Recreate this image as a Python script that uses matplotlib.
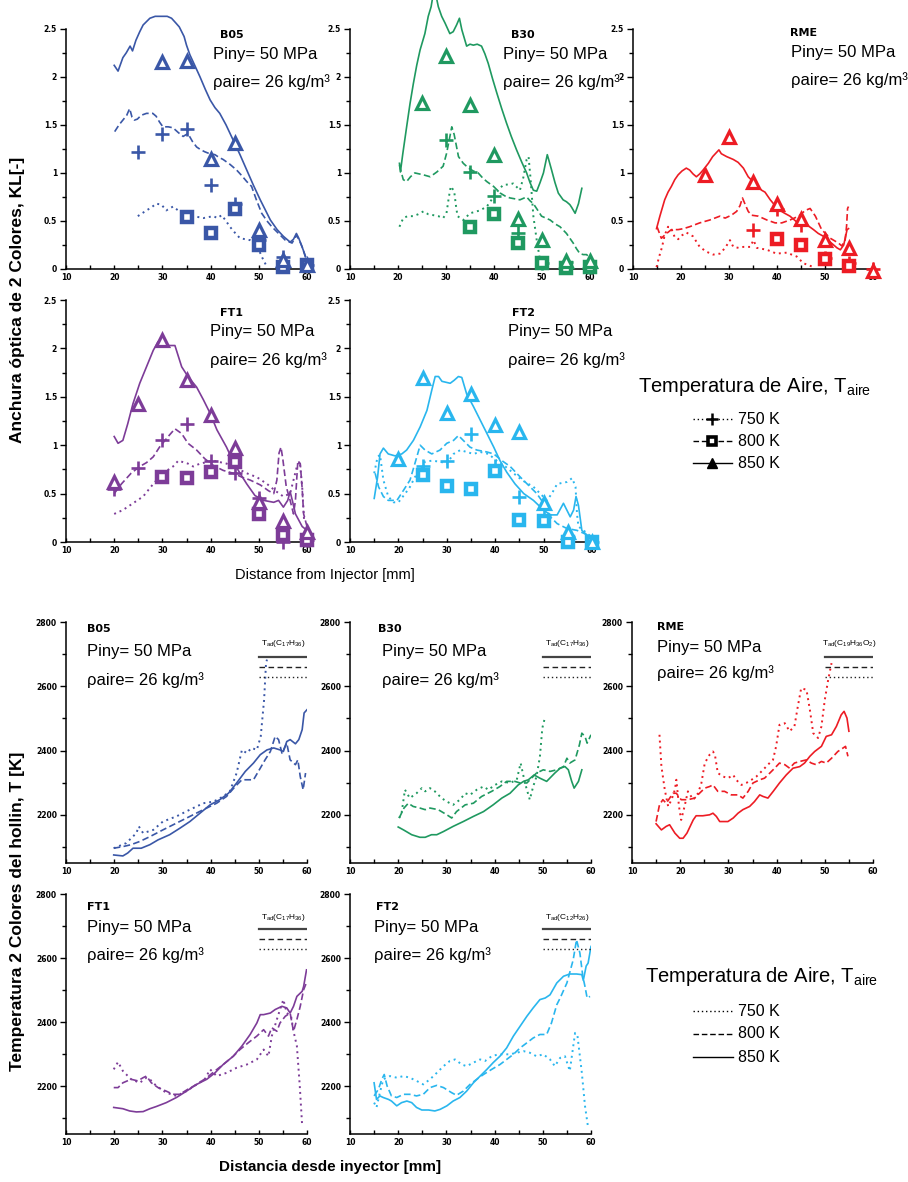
import matplotlib.pyplot as plt

plt.rcParams['font.family'] = ['Liberation Sans', 'DejaVu Sans']
plt.rcParams['mathtext.fontset'] = 'custom'
plt.rcParams['mathtext.rm'] = 'Liberation Sans'
plt.rcParams['mathtext.default'] = 'regular'

# ---- anchura optica KL (distancia mm, KL) ----
B05_KL_850 = [(20.0, 2.12), (20.8, 2.06), (21.8, 2.2), (22.5, 2.25), (23.3, 2.32), (23.8, 2.27), (24.5, 2.38),
              (25.3, 2.47), (26.0, 2.54), (27.4, 2.61), (28.5, 2.63), (30.0, 2.63), (31.0, 2.63), (31.9, 2.61),
              (32.8, 2.56), (33.5, 2.52), (34.1, 2.46), (34.5, 2.42), (35.0, 2.33), (35.7, 2.23), (36.8, 2.11),
              (37.8, 2.0), (38.9, 1.87), (39.9, 1.76), (40.9, 1.68), (41.9, 1.62), (43.2, 1.5), (44.7, 1.34),
              (46.1, 1.19), (47.5, 1.03), (48.9, 0.87), (50.3, 0.72), (51.4, 0.61), (52.4, 0.51), (53.8, 0.41),
              (55.1, 0.34), (56.5, 0.28), (57.2, 0.31), (57.8, 0.37), (58.3, 0.32), (58.6, 0.28), (59.2, 0.2),
              (59.7, 0.13)]
B05_KL_800 = [(20.1, 1.43), (21.0, 1.5), (21.8, 1.55), (22.6, 1.6), (23.2, 1.67), (23.7, 1.58), (24.2, 1.55),
              (24.8, 1.56), (25.6, 1.6), (26.7, 1.62), (28.0, 1.62), (28.7, 1.59), (29.4, 1.53), (30.1, 1.48),
              (31.2, 1.48), (32.2, 1.47), (33.3, 1.42), (34.3, 1.38), (35.3, 1.41), (36.2, 1.33), (37.1, 1.27),
              (38.0, 1.24), (38.8, 1.22), (39.8, 1.2), (40.9, 1.19), (41.8, 1.16), (42.6, 1.14), (44.0, 1.09),
              (45.4, 1.03), (46.5, 0.97), (47.5, 0.91), (48.5, 0.86), (49.5, 0.72), (50.6, 0.58), (51.7, 0.5),
              (52.7, 0.44), (54.1, 0.37), (55.5, 0.30), (56.9, 0.27), (57.8, 0.35), (58.4, 0.3), (59.0, 0.23),
              (59.9, 0.09)]
B05_KL_750 = [(24.9, 0.55), (25.8, 0.58), (26.7, 0.61), (27.7, 0.64), (28.7, 0.68), (29.8, 0.67), (30.8, 0.61),
              (32.2, 0.65), (33.0, 0.62), (34.0, 0.58), (35.2, 0.57), (36.4, 0.55), (37.5, 0.54), (38.5, 0.53),
              (39.5, 0.54), (40.6, 0.55), (41.4, 0.53), (42.3, 0.56), (43.2, 0.5), (44.0, 0.44), (45.0, 0.38),
              (46.1, 0.32), (47.2, 0.31), (48.2, 0.30), (49.6, 0.25), (50.6, 0.13), (51.7, 0.02)]
B05_TRI = [(30, 2.15), (35, 2.16), (40, 1.15), (45, 1.31), (50, 0.41), (55, 0.09), (60, 0.04)]
B05_PLUS = [(25, 1.22), (30, 1.41), (35, 1.46), (40, 0.875), (45, 0.68), (50, 0.3), (55, 0.12), (60, 0.04)]
B05_SQ = [(35, 0.54), (40, 0.37), (45, 0.62), (50, 0.25), (55, 0.02), (60, 0.04)]

B30_KL_850 = [(20.3, 1.10), (20.5, 1.01), (21.0, 1.2), (21.8, 1.48), (22.5, 1.72), (23.2, 1.93), (23.9, 2.12),
              (24.6, 2.28), (25.6, 2.45), (26.3, 2.63), (26.9, 2.73), (27.3, 2.85), (27.9, 2.85), (28.4, 2.73),
              (29.1, 2.63), (29.8, 2.56), (30.8, 2.45), (31.5, 2.47), (32.2, 2.54), (32.8, 2.61), (33.3, 2.49),
              (34.3, 2.32), (35.0, 2.34), (35.7, 2.33), (36.5, 2.34), (37.4, 2.32), (38.1, 2.24), (38.8, 2.14),
              (39.7, 1.98), (40.6, 1.83), (41.6, 1.67), (42.6, 1.52), (43.6, 1.38), (44.7, 1.24), (45.8, 1.11),
              (46.8, 1.0), (47.5, 0.9), (48.2, 0.82), (48.9, 0.81), (49.6, 0.9), (50.3, 1.0), (51.1, 1.19),
              (51.5, 1.12), (52.0, 1.03), (52.7, 0.9), (53.4, 0.79), (54.4, 0.72), (55.1, 0.7), (55.8, 0.67),
              (56.2, 0.64), (56.9, 0.58), (57.6, 0.68), (58.3, 0.84)]
B30_KL_800 = [(20.3, 1.08), (21.1, 0.93), (21.8, 0.91), (22.6, 0.96), (23.5, 1.0), (24.4, 0.99), (25.3, 0.98),
              (26.7, 0.96), (28.1, 1.01), (29.4, 1.07), (30.1, 1.2), (30.7, 1.35), (31.2, 1.48), (31.7, 1.4),
              (32.6, 1.17), (33.6, 1.10), (34.7, 1.05), (35.7, 1.02), (36.7, 1.0), (37.6, 0.95), (38.5, 0.91),
              (39.9, 0.86), (41.3, 0.79), (42.3, 0.76), (43.3, 0.74), (44.4, 0.73), (45.4, 0.72), (46.8, 0.75),
              (47.5, 0.71), (48.2, 0.68), (49.0, 0.62), (49.9, 0.55), (50.8, 0.53), (51.7, 0.51), (52.7, 0.47),
              (53.75, 0.44), (55.1, 0.37), (55.8, 0.32), (56.5, 0.27), (57.2, 0.21), (57.9, 0.16), (58.6, 0.15),
              (59.3, 0.15), (60.0, 0.11)]
B30_KL_750 = [(20.3, 0.44), (21.1, 0.53), (22.0, 0.55), (23.2, 0.55), (24.2, 0.57), (25.3, 0.60), (26.3, 0.57),
              (27.4, 0.56), (28.4, 0.55), (29.4, 0.53), (30.1, 0.58), (30.6, 0.75), (31.0, 0.86), (31.7, 0.81),
              (32.1, 0.65), (32.4, 0.55), (33.6, 0.51), (35.0, 0.58), (37.1, 0.61), (38.5, 0.65), (39.9, 0.75),
              (40.9, 0.82), (41.9, 0.875), (43.0, 0.88), (44.0, 0.89), (45.4, 0.82), (46.1, 0.95), (46.8, 1.14),
              (47.2, 1.17), (47.6, 0.95), (48.2, 0.55), (48.9, 0.30), (49.6, 0.09), (51.0, 0.04)]
B30_TRI = [(25, 1.73), (30, 2.22), (35, 1.71), (40, 1.19), (45, 0.52), (50, 0.30), (55, 0.08), (60, 0.08)]
B30_PLUS = [(30, 1.34), (35, 1.01), (40, 0.76), (45, 0.37), (50, 0.06), (55, 0.07), (60, 0.02)]
B30_SQ = [(35, 0.44), (40, 0.57), (45, 0.27), (50, 0.06), (55, 0.01), (60, 0.02)]

RME_KL_850 = [(14.9, 0.42), (15.6, 0.55), (16.6, 0.72), (17.3, 0.8), (18.0, 0.86), (18.7, 0.93), (19.4, 0.98),
              (20.2, 1.02), (21.1, 1.05), (21.8, 1.03), (22.5, 0.99), (23.2, 0.96), (23.9, 0.99), (24.6, 1.03),
              (25.7, 1.10), (26.6, 1.17), (27.9, 1.24), (28.4, 1.2), (29.5, 1.17), (30.9, 1.14), (31.9, 1.11),
              (33.0, 1.05), (34.0, 0.96), (35.4, 0.89), (36.1, 0.85), (36.8, 0.82), (37.5, 0.80), (38.6, 0.72),
              (39.6, 0.66), (40.6, 0.61), (41.6, 0.58), (42.7, 0.55), (44.1, 0.49), (45.5, 0.48), (46.5, 0.45),
              (47.6, 0.41), (48.6, 0.37), (49.7, 0.34), (51.1, 0.28), (52.5, 0.22), (53.2, 0.20), (53.9, 0.25),
              (54.6, 0.41), (54.9, 0.42)]
RME_KL_800 = [(15.0, 0.44), (15.9, 0.32), (17.0, 0.37), (18.0, 0.41), (19.4, 0.41), (20.5, 0.42), (21.8, 0.44),
              (23.9, 0.48), (26.0, 0.51), (28.1, 0.55), (29.2, 0.53), (30.5, 0.56), (31.6, 0.60), (32.3, 0.66),
              (32.8, 0.74), (33.3, 0.68), (34.0, 0.6), (34.7, 0.56), (36.1, 0.55), (37.9, 0.51), (39.6, 0.48),
              (41.0, 0.48), (42.7, 0.51), (44.5, 0.55), (45.9, 0.61), (46.9, 0.63), (48.0, 0.55), (49.3, 0.41),
              (51.1, 0.32), (52.8, 0.27), (53.5, 0.24), (54.2, 0.30), (54.5, 0.45), (54.7, 0.63), (54.9, 0.65)]
RME_KL_750 = [(14.9, 0.02), (15.4, 0.12), (16.0, 0.22), (16.6, 0.35), (17.3, 0.44), (18.0, 0.42), (18.7, 0.33),
              (19.4, 0.31), (20.2, 0.35), (21.1, 0.38), (22.5, 0.34), (23.9, 0.23), (25.3, 0.18), (26.7, 0.15),
              (28.1, 0.16), (29.2, 0.22), (30.2, 0.30), (30.9, 0.23), (32.0, 0.22), (33.0, 0.23), (34.4, 0.23),
              (35.1, 0.30), (35.8, 0.22), (37.9, 0.20), (39.9, 0.16), (42.0, 0.17), (44.1, 0.13), (45.5, 0.06),
              (47.6, 0.02)]
RME_TRI = [(25, 0.98), (30, 1.37), (35, 0.91), (40, 0.68), (45, 0.52), (50, 0.30), (55, 0.22), (60, -0.02)]
RME_PLUS = [(35, 0.41), (40, 0.62), (45, 0.46), (50, 0.11), (55, 0.06), (60, 0.0)]
RME_SQ = [(40, 0.31), (45, 0.25), (50, 0.10), (55, 0.03)]

FT1_KL_850 = [(20.0, 1.09), (20.8, 1.02), (21.8, 1.05), (22.8, 1.22), (23.9, 1.43), (25.3, 1.64), (26.7, 1.81),
              (28.1, 1.98), (29.1, 2.07), (30.1, 2.07), (31.2, 2.03), (32.6, 2.03), (33.3, 1.92), (34.0, 1.81),
              (35.3, 1.71), (37.1, 1.60), (38.5, 1.47), (39.9, 1.33), (41.3, 1.16), (43.3, 0.98), (44.7, 0.83),
              (46.1, 0.71), (47.5, 0.60), (49.2, 0.48), (51.0, 0.43), (53.1, 0.41), (54.1, 0.43), (55.1, 0.36),
              (56.0, 0.43), (56.5, 0.52), (57.0, 0.42), (57.6, 0.29), (59.0, 0.16), (60.0, 0.12)]
FT1_KL_800 = [(20.0, 0.50), (21.5, 0.60), (23.5, 0.71), (25.3, 0.78), (26.7, 0.82), (28.1, 0.88), (29.4, 0.98),
              (31.2, 1.09), (32.6, 1.17), (34.0, 1.12), (35.3, 1.02), (37.1, 0.95), (38.8, 0.86), (40.6, 0.79),
              (42.6, 0.74), (44.7, 0.71), (46.5, 0.67), (48.2, 0.64), (50.3, 0.59), (52.0, 0.53), (53.1, 0.50),
              (53.75, 0.64), (54.2, 0.92), (54.6, 0.98), (55.0, 0.85), (55.7, 0.57), (56.5, 0.43), (57.2, 0.29),
              (57.6, 0.43), (58.1, 0.84), (58.6, 0.81), (59.0, 0.55), (59.3, 0.29), (60.0, 0.16)]
FT1_KL_750 = [(20.0, 0.29), (21.8, 0.33), (23.9, 0.40), (26.0, 0.47), (28.1, 0.60), (30.1, 0.71), (32.2, 0.78),
              (33.3, 0.84), (35.3, 0.81), (36.4, 0.78), (37.8, 0.81), (40.6, 0.84), (43.3, 0.81), (44.7, 0.78),
              (47.5, 0.71), (49.6, 0.67), (51.7, 0.60), (53.4, 0.53), (55.1, 0.47), (56.5, 0.50), (57.9, 0.78),
              (58.5, 0.83), (59.0, 0.57), (59.4, 0.22)]
FT1_TRI = [(20, 0.62), (25, 1.43), (30, 2.09), (35, 1.67), (40, 1.31), (45, 0.97), (50, 0.41), (55, 0.22), (60, 0.10)]
FT1_PLUS = [(20, 0.55), (25, 0.76), (30, 1.05), (35, 1.22), (40, 0.84), (45, 0.71), (50, 0.45), (55, 0.0), (60, 0.02)]
FT1_SQ = [(30, 0.67), (35, 0.66), (40, 0.72), (45, 0.83), (50, 0.29), (55, 0.07), (60, 0.02)]

FT2_KL_850 = [(15.0, 0.45), (15.7, 0.67), (16.2, 0.91), (16.9, 0.97), (17.9, 0.91), (19.3, 0.89), (20.7, 0.91),
              (21.7, 0.95), (23.1, 1.05), (24.5, 1.19), (25.9, 1.36), (26.9, 1.57), (27.6, 1.71), (28.3, 1.71),
              (29.0, 1.66), (30.7, 1.64), (31.5, 1.67), (32.4, 1.71), (33.1, 1.70), (34.1, 1.53), (35.5, 1.40),
              (36.9, 1.26), (38.3, 1.12), (39.7, 0.98), (41.0, 0.84), (42.4, 0.72), (44.1, 0.60), (45.9, 0.50),
              (47.9, 0.43), (50.0, 0.33), (51.4, 0.28), (52.8, 0.28), (54.1, 0.40), (55.5, 0.26), (56.2, 0.33),
              (56.7, 0.47), (57.2, 0.38), (57.9, 0.12), (59.0, 0.07), (60.0, 0.05)]
FT2_KL_800 = [(15.2, 0.71), (15.9, 0.57), (16.9, 0.47), (17.9, 0.43), (19.7, 0.43), (21.0, 0.53), (22.4, 0.64),
              (23.4, 0.81), (24.5, 1.0), (25.5, 0.95), (26.9, 0.91), (28.6, 0.95), (30.0, 1.02), (31.4, 1.05),
              (32.4, 1.10), (33.4, 1.05), (34.8, 0.98), (36.2, 0.95), (38.3, 0.93), (39.7, 0.91), (41.4, 0.84),
              (43.1, 0.78), (45.2, 0.67), (47.2, 0.57), (48.6, 0.50), (50.0, 0.40), (51.4, 0.26), (52.8, 0.19),
              (54.8, 0.14), (56.9, 0.12), (58.3, 0.09), (59.7, 0.05)]
FT2_KL_750 = [(15.0, 0.71), (15.7, 0.88), (16.2, 0.90), (16.9, 0.64), (17.9, 0.47), (19.0, 0.41), (20.0, 0.41),
              (21.4, 0.50), (22.4, 0.57), (23.4, 0.67), (24.5, 0.74), (25.5, 0.83), (26.9, 0.84), (28.6, 0.83),
              (30.0, 0.81), (31.4, 0.91), (32.8, 0.95), (34.1, 0.93), (35.5, 0.91), (36.9, 0.93), (38.6, 0.91),
              (40.3, 0.84), (42.1, 0.78), (43.8, 0.71), (45.5, 0.64), (47.9, 0.57), (49.3, 0.50), (50.7, 0.43),
              (51.7, 0.50), (52.8, 0.60), (54.8, 0.62), (55.9, 0.66), (56.6, 0.57), (56.9, 0.29), (57.2, 0.16),
              (59.0, 0.09), (60.4, 0.03)]
FT2_TRI = [(20, 0.86), (25, 1.69), (30, 1.33), (35, 1.53), (40, 1.21), (45, 1.14), (50, 0.40), (55, 0.10), (60, 0.0)]
FT2_PLUS = [(25, 0.79), (30, 0.84), (35, 1.12), (40, 0.79), (45, 0.47), (50, 0.28), (55, 0.05), (60, 0.0)]
FT2_SQ = [(25, 0.69), (30, 0.58), (35, 0.55), (40, 0.73), (45, 0.23), (50, 0.22), (55, 0.0), (60, 0.0)]

# ---- temperatura del hollin (distancia mm, K) ----
B05_T_850 = [(19.9, 2075), (21.8, 2072), (22.8, 2081), (23.9, 2096), (25.6, 2096), (27.4, 2107), (29.1, 2122),
             (31.5, 2138), (33.6, 2158), (35.7, 2179), (37.8, 2205), (39.9, 2231), (41.9, 2247), (43.7, 2267),
             (45.4, 2299), (47.2, 2335), (48.9, 2361), (50.3, 2387), (51.7, 2402), (53.1, 2408), (54.4, 2402),
             (55.1, 2397), (55.8, 2428), (56.5, 2434), (57.6, 2421), (58.3, 2434), (59.0, 2465), (59.4, 2517),
             (60.0, 2527)]
B05_T_800 = [(19.9, 2096), (21.8, 2101), (23.5, 2107), (25.3, 2117), (27.4, 2132), (30.1, 2153), (32.9, 2174),
             (35.7, 2195), (38.5, 2216), (41.25, 2236), (43.3, 2257), (45.1, 2288), (46.5, 2309), (48.9, 2309),
             (50.3, 2345), (51.3, 2371), (52.4, 2397), (53.4, 2444), (54.1, 2434), (54.8, 2392), (55.8, 2423),
             (56.5, 2371), (57.6, 2356), (58.1, 2371), (58.6, 2319), (59.2, 2278), (59.7, 2330)]
B05_T_750 = [(19.9, 2096), (22.5, 2112), (24.6, 2143), (25.1, 2164), (26.0, 2143), (28.1, 2153), (30.1, 2179),
             (32.9, 2195), (35.7, 2216), (38.5, 2236), (40.6, 2241), (42.6, 2257), (44.0, 2273), (45.4, 2330),
             (46.5, 2402), (47.5, 2392), (48.5, 2408), (49.6, 2402), (50.4, 2444), (51.1, 2558), (51.5, 2672),
             (51.7, 2683)]

B30_T_850 = [(20.0, 2162), (21.1, 2153), (22.8, 2138), (24.5, 2130), (25.6, 2130), (26.9, 2138), (28.0, 2138),
             (29.4, 2148), (31.4, 2164), (33.5, 2179), (35.6, 2195), (37.7, 2210), (39.7, 2231), (41.5, 2252),
             (43.2, 2267), (44.9, 2293), (46.0, 2304), (47.0, 2309), (48.2, 2324), (49.4, 2314), (50.8, 2304),
             (52.5, 2330), (53.6, 2345), (54.6, 2350), (55.3, 2340), (56.0, 2304), (56.5, 2283), (57.4, 2304),
             (58.1, 2340)]
B30_T_800 = [(20.2, 2190), (21.2, 2221), (22.1, 2236), (23.1, 2226), (24.5, 2221), (25.6, 2216), (26.6, 2221),
             (28.3, 2216), (30.1, 2200), (31.1, 2190), (32.1, 2210), (33.9, 2231), (35.6, 2236), (37.3, 2257),
             (39.4, 2273), (41.1, 2288), (42.5, 2304), (44.2, 2304), (45.3, 2299), (46.7, 2299), (48.7, 2330),
             (50.1, 2340), (51.5, 2335), (52.9, 2340), (54.3, 2350), (55.0, 2376), (55.6, 2361), (56.7, 2371),
             (57.6, 2418), (58.1, 2454), (58.75, 2444), (59.2, 2423), (60.0, 2449)]
B30_T_750 = [(20.2, 2190), (20.7, 2205), (21.4, 2278), (22.4, 2252), (23.8, 2267), (24.9, 2283), (25.6, 2273),
             (26.6, 2283), (27.6, 2273), (29.0, 2252), (30.1, 2241), (31.4, 2231), (32.8, 2247), (33.9, 2267),
             (34.9, 2262), (36.3, 2278), (37.7, 2288), (38.7, 2278), (40.1, 2293), (41.5, 2304), (43.2, 2299),
             (44.6, 2309), (45.4, 2361), (46.3, 2299), (47.3, 2247), (48.0, 2288), (48.7, 2319), (49.4, 2381),
             (49.9, 2470), (50.5, 2506)]

RME_T_850 = [(15.0, 2172), (16.1, 2153), (17.1, 2164), (17.8, 2169), (18.9, 2143), (19.9, 2127), (20.6, 2127),
             (21.4, 2143), (22.7, 2184), (23.3, 2197), (24.7, 2197), (26.1, 2200), (26.8, 2205), (27.5, 2195),
             (28.2, 2179), (29.9, 2179), (31.0, 2190), (32.0, 2205), (33.0, 2216), (34.4, 2226), (35.4, 2241),
             (36.5, 2262), (37.2, 2257), (38.2, 2252), (39.3, 2273), (40.6, 2299), (42.0, 2324), (43.4, 2345),
             (44.8, 2350), (45.8, 2361), (46.9, 2382), (47.9, 2397), (49.3, 2413), (50.3, 2444), (51.4, 2449),
             (52.4, 2475), (53.4, 2511), (54.0, 2522), (54.6, 2501), (55.0, 2460)]
RME_T_800 = [(15.0, 2179), (15.7, 2231), (16.4, 2247), (17.1, 2236), (18.5, 2267), (19.2, 2267), (20.2, 2247),
             (21.6, 2247), (23.0, 2252), (24.0, 2267), (25.1, 2283), (26.1, 2288), (26.8, 2293), (27.8, 2273),
             (29.2, 2273), (30.6, 2262), (32.0, 2262), (33.0, 2252), (34.1, 2273), (35.1, 2299), (36.5, 2309),
             (37.5, 2314), (38.6, 2330), (39.6, 2345), (40.6, 2361), (41.7, 2356), (42.7, 2345), (43.7, 2361),
             (44.8, 2366), (46.2, 2371), (47.2, 2361), (48.2, 2356), (49.3, 2366), (50.3, 2361), (51.4, 2376),
             (52.7, 2397), (53.8, 2408), (54.3, 2413), (54.8, 2382)]
RME_T_750 = [(15.7, 2449), (16.1, 2351), (16.8, 2278), (17.5, 2226), (18.2, 2247), (18.9, 2278), (19.2, 2309),
             (19.75, 2226), (20.2, 2184), (20.9, 2226), (21.6, 2273), (22.7, 2247), (23.7, 2267), (24.4, 2299),
             (25.1, 2361), (26.1, 2387), (26.8, 2397), (27.2, 2387), (27.8, 2330), (28.9, 2319), (29.9, 2314),
             (31.0, 2324), (31.6, 2309), (32.7, 2293), (33.7, 2299), (34.8, 2309), (35.8, 2319), (37.2, 2340),
             (38.2, 2356), (39.25, 2371), (39.9, 2413), (40.6, 2480), (41.7, 2485), (42.7, 2460), (43.7, 2475),
             (44.4, 2537), (45.1, 2594), (46.2, 2589), (46.9, 2527), (47.6, 2454), (48.6, 2439), (49.3, 2475),
             (50.0, 2558), (50.7, 2620), (51.4, 2672)]

FT1_T_850 = [(19.9, 2133), (21.8, 2129), (23.2, 2122), (24.6, 2119), (26.0, 2120), (27.4, 2129), (28.75, 2136),
             (30.8, 2148), (32.9, 2164), (35.0, 2184), (37.1, 2205), (39.2, 2221), (40.9, 2241), (42.6, 2267),
             (44.7, 2293), (46.5, 2325), (48.2, 2361), (49.6, 2397), (50.3, 2423), (51.0, 2423), (52.4, 2428),
             (53.4, 2439), (54.8, 2449), (55.8, 2444), (56.5, 2428), (57.2, 2449), (57.9, 2480), (59.0, 2496),
             (59.3, 2511), (59.9, 2563)]
FT1_T_800 = [(19.9, 2195), (20.8, 2195), (21.8, 2210), (23.5, 2221), (24.9, 2216), (26.0, 2226), (26.7, 2231),
             (27.7, 2210), (29.1, 2195), (30.8, 2184), (32.2, 2174), (33.6, 2174), (35.3, 2190), (37.1, 2205),
             (39.2, 2226), (40.9, 2247), (42.6, 2267), (44.7, 2293), (46.1, 2314), (47.8, 2335), (49.6, 2356),
             (51.0, 2376), (52.0, 2356), (52.7, 2382), (53.75, 2371), (54.4, 2397), (55.5, 2418), (56.5, 2428),
             (57.2, 2371), (57.9, 2408), (58.6, 2449), (59.3, 2501), (60.0, 2527)]
FT1_T_750 = [(19.9, 2252), (20.8, 2275), (21.8, 2247), (23.5, 2221), (25.3, 2210), (26.7, 2226), (27.4, 2221),
             (28.75, 2200), (30.8, 2179), (32.9, 2169), (35.0, 2184), (37.1, 2205), (38.8, 2221), (39.9, 2252),
             (41.25, 2231), (43.3, 2241), (45.4, 2257), (47.5, 2267), (49.6, 2283), (51.0, 2314), (52.0, 2293),
             (52.7, 2356), (53.75, 2408), (54.4, 2439), (55.1, 2470), (55.8, 2428), (56.7, 2418), (57.2, 2371),
             (57.9, 2325), (58.5, 2200), (59.0, 2075)]

FT2_T_850 = [(15.0, 2210), (15.5, 2158), (16.2, 2169), (16.9, 2164), (18.0, 2158), (18.6, 2153), (19.7, 2138),
             (20.7, 2148), (21.8, 2153), (22.8, 2148), (23.8, 2133), (24.9, 2125), (26.3, 2125), (27.6, 2122),
             (28.7, 2127), (30.1, 2138), (31.4, 2153), (32.8, 2164), (34.2, 2184), (35.6, 2210), (37.0, 2231),
             (38.4, 2252), (39.7, 2273), (41.1, 2293), (42.5, 2319), (43.9, 2356), (45.3, 2387), (46.7, 2418),
             (48.0, 2444), (49.4, 2470), (50.5, 2475), (51.5, 2485), (52.9, 2522), (54.3, 2543), (55.6, 2550),
             (57.0, 2550), (58.1, 2548), (58.4, 2530), (59.0, 2575), (59.4, 2584), (60.0, 2636)]
FT2_T_800 = [(15.0, 2169), (15.9, 2190), (16.6, 2221), (17.1, 2236), (17.7, 2200), (18.6, 2169), (19.7, 2164),
             (21.1, 2174), (22.4, 2174), (23.8, 2169), (25.2, 2174), (26.6, 2195), (28.0, 2202), (29.4, 2195),
             (31.1, 2179), (32.1, 2171), (33.5, 2184), (34.9, 2205), (36.3, 2221), (37.7, 2236), (39.4, 2252),
             (41.1, 2267), (42.5, 2283), (43.9, 2299), (45.3, 2319), (46.7, 2335), (48.0, 2350), (49.4, 2361),
             (50.8, 2361), (51.8, 2397), (52.9, 2454), (53.6, 2475), (55.0, 2522), (56.3, 2594), (57.0, 2657),
             (57.7, 2615), (58.3, 2543), (58.75, 2511), (59.2, 2475), (59.8, 2480)]
FT2_T_750 = [(15.0, 2148), (15.5, 2133), (16.2, 2179), (16.9, 2221), (18.3, 2231), (19.7, 2226), (21.1, 2231),
             (22.4, 2226), (23.8, 2216), (25.2, 2205), (26.6, 2221), (28.0, 2241), (29.4, 2262), (30.7, 2278),
             (31.8, 2283), (33.2, 2267), (34.2, 2262), (35.6, 2273), (37.0, 2283), (38.0, 2278), (39.4, 2293),
             (40.8, 2299), (43.2, 2299), (44.6, 2304), (46.0, 2309), (47.3, 2304), (48.7, 2293), (50.1, 2299),
             (51.5, 2283), (52.5, 2262), (53.6, 2288), (54.6, 2293), (55.6, 2247), (56.7, 2366), (57.2, 2356),
             (58.1, 2241), (58.75, 2138), (59.4, 2070)]

# temperatura adiabatica para 850, 800 y 750 K
TAD = [2691, 2660, 2629]

TEMPERATURAS = ['750 K', '800 K', '850 K']

W, H = 908, 1182
fig = plt.figure(figsize=(W / 100, H / 100), dpi=100)

C_B05 = '#3A57A7'
C_B30 = '#1F9960'
C_RME = '#ED1C24'
C_FT1 = '#7D3C98'
C_FT2 = '#29B6EE'

ESTILO = {'750': (0, (1, 2)), '800': (0, (4, 2)), '850': '-'}
TICKFONT = dict(fontsize=5.5, fontweight='bold', fontfamily='DejaVu Sans')


def caja(l, r, t, b):
    return [l / W, 1 - b / H, (r - l) / W, (b - t) / H]


def ejes(box, ylim, ymaj, ylab, ymin):
    ax = fig.add_axes(caja(*box))
    ax.patch.set_alpha(0)
    ax.set_xlim(10, 60)
    ax.set_ylim(*ylim)
    for s in ('top', 'right'):
        ax.spines[s].set_visible(False)
    for s in ('left', 'bottom'):
        ax.spines[s].set_linewidth(1.1)
    ax.set_xticks([10, 20, 30, 40, 50, 60], ['10', '20', '30', '40', '50', '60'], **TICKFONT)
    ax.set_xticks([15, 25, 35, 45, 55], minor=True)
    ax.set_yticks(ymaj, ylab, **TICKFONT)
    ax.set_yticks(ymin, minor=True)
    ax.tick_params(axis='x', which='both', direction='in', length=3, width=1, pad=3)
    ax.tick_params(axis='y', which='major', direction='out', length=4.5, width=1, pad=2)
    ax.tick_params(axis='y', which='minor', direction='out', length=3, width=1)
    return ax


def xy(pts):
    return [p[0] for p in pts], [p[1] for p in pts]


def curvas(ax, color, l750, l800, l850):
    for pts, k in ((l750, '750'), (l800, '800'), (l850, '850')):
        x, y = xy(pts)
        lw = 1.4 if k == '750' else 1.2
        ax.plot(x, y, color=color, ls=ESTILO[k], lw=lw)


def rotulos(ax, nombre, xn, xt, yn, yp, yr):
    ax.text(xn, yn, nombre, fontsize=8, fontweight='bold', fontfamily='DejaVu Sans', va='center')
    ax.text(xt, yp, 'Piny= 50 MPa', fontsize=12, va='center')
    ax.text(xt, yr, 'ρaire= 26 kg/m³', fontsize=12, va='center')


# ---- paneles KL ----
KL_MAJ = [0, 0.5, 1, 1.5, 2, 2.5]
KL_LAB = ['0', '0.5', '1', '1.5', '2', '2.5']
KL_MIN = [0.25, 0.75, 1.25, 1.75, 2.25]

paneles_kl = [
    ('B05', C_B05, B05_KL_750, B05_KL_800, B05_KL_850, B05_PLUS, B05_SQ, B05_TRI,
     (66, 307, 0, 269), 41.9, 40.5, (2.44, 2.23, 1.95)),
    ('B30', C_B30, B30_KL_750, B30_KL_800, B30_KL_850, B30_PLUS, B30_SQ, B30_TRI,
     (350, 590, 0, 269), 43.5, 41.9, (2.44, 2.23, 1.95)),
    ('RME', C_RME, RME_KL_750, RME_KL_800, RME_KL_850, RME_PLUS, RME_SQ, RME_TRI,
     (633, 873, 0, 269), 42.7, 42.9, (2.46, 2.25, 1.97)),
    ('FT1', C_FT1, FT1_KL_750, FT1_KL_800, FT1_KL_850, FT1_PLUS, FT1_SQ, FT1_TRI,
     (66, 307, 271, 542), 42.0, 39.9, (2.37, 2.17, 1.88)),
    ('FT2', C_FT2, FT2_KL_750, FT2_KL_800, FT2_KL_850, FT2_PLUS, FT2_SQ, FT2_TRI,
     (350, 592, 271, 542), 43.5, 42.6, (2.37, 2.17, 1.88)),
]

for nombre, col, l750, l800, l850, mp, ms_, mt, box, xn, xt, ys in paneles_kl:
    ax = ejes(box, (0, 2.8), KL_MAJ, KL_LAB, KL_MIN)
    ax.spines['left'].set_bounds(0, 2.5)
    curvas(ax, col, l750, l800, l850)
    x, y = xy(mp)
    ax.plot(x, y, ls='none', marker='+', ms=10, mew=1.9, color=col, clip_on=False, zorder=4)
    x, y = xy(ms_)
    ax.plot(x, y, ls='none', marker='s', ms=6.6, mew=3.2, mec=col, mfc='white', clip_on=False, zorder=4)
    x, y = xy(mt)
    ax.plot(x, y, ls='none', marker='^', ms=9, mew=2.3, mec=col, mfc='white', clip_on=False, zorder=5)
    rotulos(ax, nombre, xn, xt, *ys)

# ---- paneles de temperatura ----
T_MAJ = [2200, 2400, 2600, 2800]
T_LAB = ['2200', '2400', '2600', '2800']
T_MIN = [2100, 2300, 2500, 2700]

paneles_t = [
    ('B05', C_B05, B05_T_750, B05_T_800, B05_T_850, (66, 307, 622, 863),
     14.4, 14.4, (2778, 2707, 2620), r'T$_{ad}$(C$_{17}$H$_{36}$)', 2733),
    ('B30', C_B30, B30_T_750, B30_T_800, B30_T_850, (350, 591, 622, 863),
     15.8, 16.6, (2778, 2707, 2620), r'T$_{ad}$(C$_{17}$H$_{36}$)', 2733),
    ('RME', C_RME, RME_T_750, RME_T_800, RME_T_850, (632, 873, 622, 863),
     15.2, 15.2, (2785, 2720, 2642), r'T$_{ad}$(C$_{19}$H$_{36}$O$_{2}$)', 2733),
    ('FT1', C_FT1, FT1_T_750, FT1_T_800, FT1_T_850, (66, 307, 894, 1134),
     14.4, 14.4, (2760, 2694, 2610), r'T$_{ad}$(C$_{17}$H$_{36}$)', 2727),
    ('FT2', C_FT2, FT2_T_750, FT2_T_800, FT2_T_850, (350, 591, 894, 1134),
     15.4, 15.0, (2760, 2694, 2610), r'T$_{ad}$(C$_{12}$H$_{26}$)', 2727),
]

for nombre, col, l750, l800, l850, box, xn, xt, ys, tad_txt, tad_y in paneles_t:
    ax = ejes(box, (2050, 2800), T_MAJ, T_LAB, T_MIN)
    curvas(ax, col, l750, l800, l850)
    # niveles de temperatura adiabatica
    ax.plot([50, 60], [TAD[0]] * 2, color='#444444', lw=1.6)
    ax.plot([50, 60], [TAD[1]] * 2, color='#222222', lw=1.0, ls=(0, (4, 2.5)))
    ax.plot([50, 60], [TAD[2]] * 2, color='#222222', lw=1.0, ls=(0, (1, 2)))
    ax.text(55, tad_y, tad_txt, fontsize=6, ha='center', va='center')
    rotulos(ax, nombre, xn, xt, *ys)

# ---- textos generales y leyendas ----
ov = fig.add_axes([0, 0, 1, 1], zorder=10)
ov.set_xlim(0, W)
ov.set_ylim(H, 0)
ov.axis('off')

ov.text(18, 300, 'Anchura óptica de 2 Colores, KL[-]', rotation=90, fontsize=12.5,
        fontweight='bold', ha='center', va='center')
ov.text(325, 575, 'Distance from Injector [mm]', fontsize=10.5, ha='center', va='center')
ov.text(18, 911, 'Temperatura 2 Colores del hollin, T [K]', rotation=90, fontsize=12.5,
        fontweight='bold', ha='center', va='center')
ov.text(330, 1167, 'Distancia desde inyector [mm]', fontsize=11, fontweight='bold',
        ha='center', va='center')

leg_titulo = r'Temperatura de Aire, T$_{aire}$'
estilos_leg = [ESTILO['750'], ESTILO['800'], ESTILO['850']]
marcas_leg = [dict(marker='+', ms=9, mew=1.8, mfc='black'),
              dict(marker='s', ms=6, mew=2.6, mfc='white'),
              dict(marker='^', ms=7, mew=1, mfc='black')]

ov.text(638, 387, leg_titulo, fontsize=14.5, va='center')
for i, (lab, ls, mk) in enumerate(zip(TEMPERATURAS, estilos_leg, marcas_leg)):
    yy = 419 + 22 * i
    ov.plot([693, 732], [yy, yy], color='black', ls=ls, lw=1.0)
    ov.plot([712], [yy], color='black', mec='black', ls='none', **mk)
    ov.text(738, yy, lab, fontsize=11.5, va='center')

ov.text(645, 976, leg_titulo, fontsize=14.5, va='center')
for i, (lab, ls) in enumerate(zip(TEMPERATURAS, estilos_leg)):
    yy = 1011 + 23 * i
    ov.plot([693, 733], [yy, yy], color='black', ls=ls, lw=1.0)
    ov.text(738, yy, lab, fontsize=11.5, va='center')

fig.savefig('out.png', dpi=100)
